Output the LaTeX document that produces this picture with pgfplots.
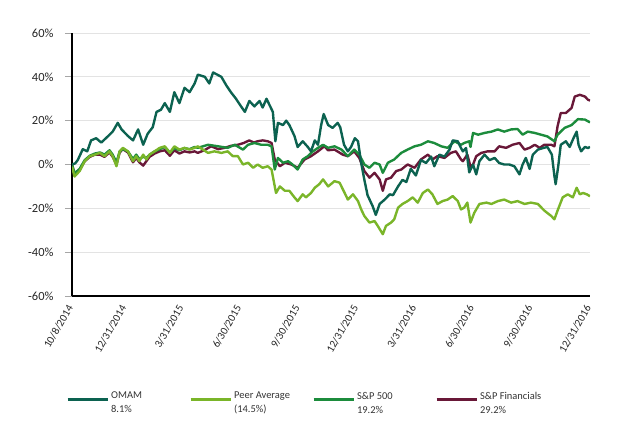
\documentclass[border=0pt]{standalone}
\usepackage{fontspec}
\setmainfont{Carlito}
\usepackage{pgfplots}
\pgfplotsset{compat=1.18}
\definecolor{omam}{RGB}{12,98,80}
\definecolor{peer}{RGB}{122,181,41}
\definecolor{spx}{RGB}{28,140,60}
\definecolor{fin}{RGB}{105,24,56}
\begin{document}
\begin{tikzpicture}
\path[use as bounding box] (-72bp,-144bp) rectangle (552bp,296bp);
\begin{axis}[
  at={(0,0)}, anchor=south west,
  width=518bp, height=263bp, scale only axis,
  xmin=0, xmax=815, ymin=-60, ymax=60,
  axis x line*=bottom, axis y line*=left,
  axis line style={black, line width=1.4pt},
  ytick={-60,-40,-20,0,20,40,60},
  yticklabels={-60\%,-40\%,-20\%,0\%,20\%,40\%,60\%},
  xtick={0,84,174,265,357,449,540,631,723,815},
  xticklabels={10/8/2014,12/31/2014,3/31/2015,6/30/2015,9/30/2015,12/31/2015,3/31/2016,6/30/2016,9/30/2016,12/31/2016},
  xticklabel style={rotate=60, anchor=east, font=\fontsize{11}{12}\selectfont, color=black!85},
  yticklabel style={font=\fontsize{12.5}{14}\selectfont, color=black!85, xshift=-8bp},
  tick align=outside,
  major tick length=7bp,
  ytick style={color=gray!70, line width=0.8pt},
  xtick style={draw=none},
  ymajorgrids,
  major grid style={color=gray!22, line width=0.9pt},
  legend columns=4,
  legend style={draw=none, fill=none, at={(-0.0174,-0.3935)}, anchor=west,
    font=\fontsize{10.5}{14}\selectfont, text=black!80,
    /tikz/every even column/.append style={column sep=10bp}},
  legend cell align=left,
  legend image code/.code={\draw[#1, line width=3pt] (0bp,0bp) -- (40bp,0bp);},
  every axis plot/.append style={line width=2.4pt, line join=round},
]
\addlegendimage{omam}
\addlegendentry{\parbox[c]{66bp}{OMAM\\8.1\%}}
\addlegendimage{peer}
\addlegendentry{\parbox[c]{66bp}{Peer Average\\(14.5\%)}}
\addlegendimage{spx}
\addlegendentry{\parbox[c]{66bp}{S\&P 500\\19.2\%}}
\addlegendimage{fin}
\addlegendentry{\parbox[c]{66bp}{S\&P Financials\\29.2\%}}

% S&P Financials
\addplot[fin, forget plot] coordinates {
(0,0) (4,-4.5) (12,-2.5) (20,1.5) (28,3.5) (36,4.5) (44,4.5) (51,3.5) (59,5.5) (64,3.5)
(70,0) (75,5.5) (80,7) (88,5.5) (96,1) (101,3) (106,1) (112,-0.5) (117,1.5) (122,3.5)
(130,5) (138,6) (146,6.5) (154,4) (161,6.5) (169,5) (177,6) (185,5.5) (193,6) (198,5.3)
(208,6.5) (219,8.3) (230,7) (240,7.6) (250,8.5) (261,9) (270,9.8) (279,11) (286,10) (292,10.6)
(300,11) (308,10.6) (314,9.8) (319,2.3) (327,-0.8) (335,0.8) (345,0) (355,-1.5) (366,2.3)
(376,3.8) (387,6) (397,8.3) (403,6.5) (413,6.8) (426,4.5) (434,3.8) (444,6) (452,3)
(460,-3) (468,-6) (476,-3.8) (484,-6.8) (489,-12) (494,-6.8) (502,-6) (510,-3) (518,-2.3)
(528,0) (539,-1.5) (549,2.3) (560,4.5) (567,2.3) (575,3.8) (586,3) (596,5.3) (604,6)
(612,2.3) (615,1.5) (622,4.5) (627,-1) (631,0) (636,3.8) (644,5.3) (654,6) (665,6)
(672,8.3) (683,7.6) (693,9) (704,9.8) (712,6.8) (720,7.6) (728,9) (736,7.6) (743,9)
(754,9) (759,8.3) (764,17.5) (769,23.5) (777,23.5) (786,25.8) (791,31) (799,31.8)
(807,31) (812,29.5) (815,29.2)
};
% S&P 500
\addplot[spx, forget plot] coordinates {
(0,0) (4,-4) (12,-2) (20,2) (28,4) (36,5) (44,5.5) (51,4.5) (59,6.5) (64,4.5)
(70,1) (75,6) (80,7) (88,6) (96,2.5) (101,4.5) (106,2.5) (112,3.5) (117,3) (122,4.5)
(130,6) (138,7) (146,8) (154,5.5) (161,7.5) (169,6.5) (177,7.5) (185,7) (193,8) (198,7.6)
(214,9) (230,8.3) (245,7.6) (256,9) (269,6.8) (277,9) (287,9.8) (298,9) (308,9) (314,8.3)
(319,-2.3) (324,3) (332,0.8) (340,1.5) (347,0) (355,-2.3) (363,2.3) (371,3.8) (379,6)
(387,7.6) (395,9) (403,7.6) (413,8.3) (424,6.8) (434,3.8) (444,6.8) (452,4.5) (460,0)
(468,-1.5) (476,0.8) (484,0) (489,-3.8) (497,0.8) (507,2.3) (518,5.3) (528,6.8) (539,8.3)
(549,9) (560,10.6) (570,9.8) (581,8.3) (591,7.6) (602,10.6) (612,9) (617,9.8) (625,10.6)
(627,8) (631,14.4) (639,13.6) (649,14.4) (660,15) (670,16) (680,15) (691,16) (701,16.2)
(709,13.6) (717,15) (728,14.4) (738,13.6) (748,12.8) (759,10.6) (764,13.6) (775,16.7)
(786,18) (796,20.7) (807,20.5) (815,19.2)
};
% Peer Average
\addplot[peer, forget plot] coordinates {
(0,-1) (4,-5.5) (12,-3) (20,1.5) (28,3.8) (36,4.5) (44,5.3) (51,3.8) (59,6) (64,3.8)
(70,-0.8) (75,6) (80,7.6) (88,6) (96,1.5) (101,3.8) (106,1.5) (112,4.5) (117,2.3) (122,4.5)
(130,6) (138,7.6) (146,8.3) (154,5.3) (161,8.3) (169,6.8) (177,7.6) (185,6.8) (193,7.6)
(198,8.3) (214,5.3) (224,6) (235,5.3) (245,6) (253,3.8) (261,3.8) (269,0) (277,0.8)
(285,-1.5) (292,0) (300,-1.5) (308,-0.8) (314,-2.3) (319,-10) (321,-13) (327,-10)
(335,-12) (342,-12) (350,-15) (355,-16.7) (363,-13.6) (368,-15) (376,-13) (382,-10.6)
(389,-9) (395,-6.8) (403,-10) (413,-7.6) (421,-8.3) (429,-13) (434,-16) (442,-13.6)
(450,-16.7) (455,-20.5) (460,-23.5) (468,-26.5) (476,-25.8) (481,-28) (489,-31.8)
(494,-28) (502,-26.5) (507,-25) (513,-19.7) (520,-18) (528,-16.7) (536,-15) (544,-17.4)
(552,-13) (560,-11.4) (567,-13.6) (575,-18) (583,-16.7) (591,-16) (599,-14.4) (607,-16.7)
(612,-20.5) (617,-19.7) (622,-17.4) (627,-26.5) (633,-22) (641,-18) (652,-17.4) (660,-18)
(670,-16.7) (680,-16) (691,-17.4) (701,-16.7) (712,-18) (722,-17.4) (733,-18) (743,-21)
(754,-23.5) (759,-25) (764,-21) (772,-15) (780,-13.6) (788,-15) (794,-10.6) (799,-13.6)
(804,-13) (810,-13.6) (815,-14.5)
};
% OMAM
\addplot[omam, forget plot] coordinates {
(0,0) (5,0.5) (9,2) (17,7) (24,6) (30,11) (38,12) (46,10) (57,13) (64,15) (72,19) (78,16)
(88,13) (96,11) (104,16) (112,9) (119,14) (127,17) (133,24) (140,25) (146,28) (154,24)
(161,33) (169,28) (177,35) (185,33) (193,37) (198,41) (209,40) (216,37) (222,42) (235,40)
(243,36) (250,33) (258,30) (266,26.5) (272,24) (279,29) (287,26.5) (295,29) (300,26)
(306,30) (311,27) (316,24) (320,10.6) (324,19) (332,18) (337,20) (342,18) (350,13)
(355,8) (363,10.6) (371,8) (376,6) (382,11) (387,9) (392,18) (396,23) (403,18)
(410,16.7) (418,19) (422,17) (428,9) (434,6) (439,8) (445,12) (450,10.6) (455,0.7)
(460,-7) (465,-14) (473,-19) (478,-23) (484,-18) (492,-16) (500,-13.6) (505,-14)
(513,-10) (520,-7) (526,-8) (533,-2) (541,-5) (549,2) (557,0.7) (565,3.6) (570,-0.8)
(578,4.5) (586,3.6) (594,6.8) (599,11) (607,10.6) (612,7.5) (615,6) (620,7.5) (625,-3.6)
(631,0) (636,-4.5) (641,1.5) (649,4.5) (657,2) (665,3) (672,0.7) (680,0) (688,0)
(696,-0.8) (704,-4.5) (709,0) (714,3) (720,-2) (725,4.5) (733,6.8) (741,7.5) (748,8)
(755,4.5) (759,-5.3) (761,-9) (765,-0.8) (769,9) (777,10.6) (783,8) (789,12) (794,15)
(797,9) (801,6) (807,8) (812,7.5) (815,8.1)
};
\end{axis}
\end{tikzpicture}
\end{document}
